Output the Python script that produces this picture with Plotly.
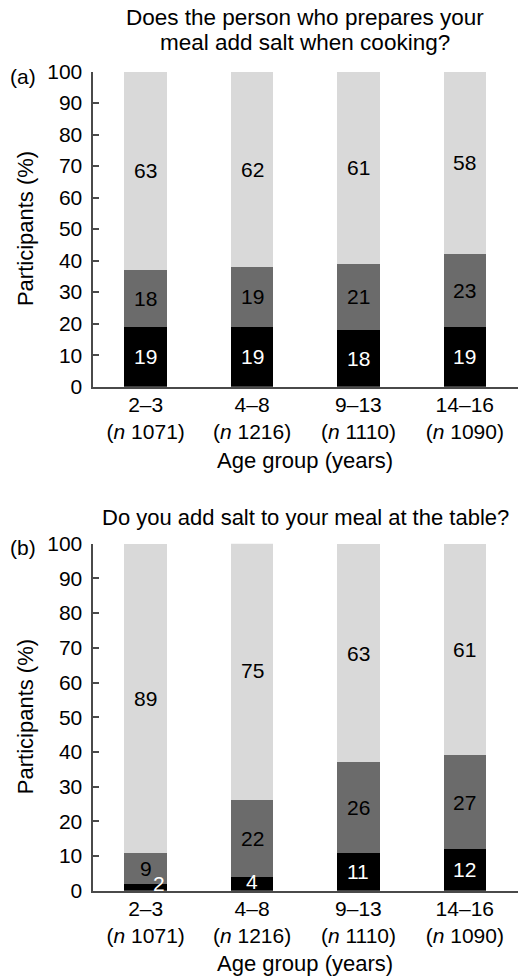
import plotly.graph_objects as go

# Age groups and sample sizes
age_groups = ["2–3", "4–8", "9–13", "14–16"]
sample_sizes = [1071, 1216, 1110, 1090]

# Panel (a): person preparing the meal adds salt when cooking (%)
cook_dark = [19, 19, 18, 19]
cook_mid = [18, 19, 21, 23]
cook_light = [63, 62, 61, 58]

# Panel (b): participant adds salt at the table (%)
table_dark = [2, 4, 11, 12]
table_mid = [9, 22, 26, 27]
table_light = [89, 75, 63, 61]

y_ticks = list(range(0, 101, 10))

FONT = "Liberation Sans, Arial, Helvetica, sans-serif"
COL_DARK = "#000000"
COL_MID = "#6b6b6b"
COL_LIGHT = "#d9d9d9"
AXIS_COL = "#4a4a4a"

W, H = 520, 977
# pixel geometry of the two plot areas
X0, X1 = 92.5, 518
P1_TOP, P1_BOT = 71.5, 386.7
P2_TOP, P2_BOT = 543.7, 890.7


def ydom(top, bot):
    return [1 - bot / H, 1 - top / H]


tick_text = [f"{g}<br>(<i>n</i> {n})" for g, n in zip(age_groups, sample_sizes)]

fig = go.Figure()

panels = [
    ("x", "y", [cook_dark, cook_mid, cook_light]),
    ("x2", "y2", [table_dark, table_mid, table_light]),
]
colors = [COL_DARK, COL_MID, COL_LIGHT]
text_colors = ["white", "black", "black"]

# small nudges for labels in segments too thin to hold them
nudges = {("y2", 0, 0): (13, 4), ("y2", 1, 0): (0, 2)}

annotations = []
for xa, ya, series in panels:
    for k, vals in enumerate(series):
        fig.add_trace(go.Bar(
            x=age_groups, y=vals, xaxis=xa, yaxis=ya,
            marker=dict(color=colors[k], line=dict(width=0)),
            width=0.4, showlegend=False, hoverinfo="skip",
        ))
    # value labels at segment centres
    for i in range(len(age_groups)):
        base = 0
        for k, vals in enumerate(series):
            v = vals[i]
            dx, dy = nudges.get((ya, i, k), (0, 0))
            annotations.append(dict(
                x=age_groups[i], y=base + v / 2, xref=xa, yref=ya,
                text=str(v), showarrow=False, xshift=dx, yshift=dy,
                xanchor="center", yanchor="middle",
                font=dict(family=FONT, size=21, color=text_colors[k]),
            ))
            base += v


def paper_y(py):
    return 1 - py / H


def note(px, py, text, size=22, angle=0):
    return dict(x=px / W, y=paper_y(py), xref="paper", yref="paper",
                showarrow=False, text=text, textangle=angle,
                xanchor="center", yanchor="middle",
                font=dict(family=FONT, size=size, color="black"))


cx = (X0 + X1) / 2
annotations += [
    note(cx, 17, "Does the person who prepares your", size=22.5),
    note(cx, 42, "meal add salt when cooking?", size=22.5),
    note(cx, 517, "Do you add salt to your meal at the table?"),
    note(23, 76, "(a)", size=21),
    note(23, 547, "(b)", size=21),
    note(cx, 460, "Age group (years)"),
    note(cx, 963, "Age group (years)"),
    note(25, (P1_TOP + P1_BOT) / 2, "Participants (%)", angle=-90),
    note(25, (P2_TOP + P2_BOT) / 2, "Participants (%)", angle=-90),
]

xaxis_style = dict(
    domain=[X0 / W, X1 / W], range=[-0.5, 3.5], type="category",
    showline=True, linecolor=AXIS_COL, linewidth=2, ticks="",
    tickvals=age_groups, ticktext=tick_text, showgrid=False, zeroline=False,
    tickfont=dict(family=FONT, size=21, color="black"), fixedrange=True,
    automargin=False, ticklabelstandoff=-2,
)
yaxis_style = dict(
    range=[0, 100], tickvals=y_ticks, showline=True, linecolor=AXIS_COL,
    linewidth=2, ticks="inside", ticklen=6, tickwidth=1.5, tickcolor=AXIS_COL,
    showgrid=False, zeroline=False, ticklabelstandoff=4,
    tickfont=dict(family=FONT, size=21, color="black"), fixedrange=True,
    automargin=False,
)

fig.update_layout(
    width=W, height=H,
    margin=dict(l=0, r=0, t=0, b=0, autoexpand=False),
    paper_bgcolor="white", plot_bgcolor="white",
    barmode="stack",
    xaxis=dict(xaxis_style, anchor="y"),
    xaxis2=dict(xaxis_style, anchor="y2"),
    yaxis=dict(yaxis_style, domain=ydom(P1_TOP, P1_BOT), anchor="x"),
    yaxis2=dict(yaxis_style, domain=ydom(P2_TOP, P2_BOT), anchor="x2"),
    annotations=annotations,
    font=dict(family=FONT, size=21, color="black"),
)

fig.write_html("out.html")
